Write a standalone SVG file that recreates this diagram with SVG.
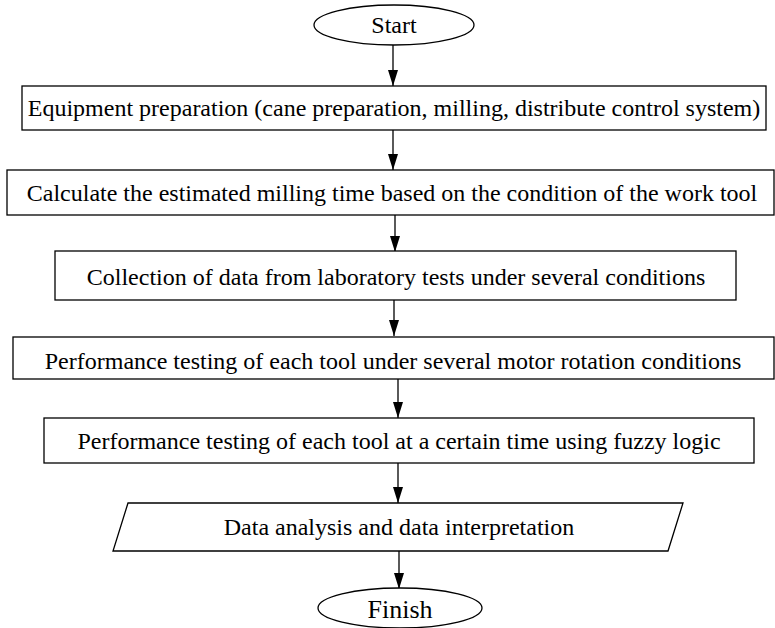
<svg xmlns="http://www.w3.org/2000/svg" width="775" height="628" viewBox="0 0 775 628">
<style>
.s{fill:#fff;stroke:#000;stroke-width:1.3}
.t{font-family:"Liberation Serif","Times New Roman",serif;font-size:24px;fill:#000;text-anchor:middle}
.c{stroke:#000;stroke-width:1.3;fill:none;marker-end:url(#a)}
</style>
<defs>
<marker id="a" markerWidth="16" markerHeight="10" refX="16" refY="5" orient="auto" markerUnits="userSpaceOnUse" viewBox="0 0 16 10">
<path d="M0,0 L16,5 L0,10 Z" fill="#000"/>
</marker>
</defs>
<rect width="775" height="628" fill="#fff"/>
<g id="connectors">
<line class="c" x1="393" y1="45" x2="393" y2="86"/>
<line class="c" x1="393" y1="130" x2="393" y2="170"/>
<line class="c" x1="395" y1="215" x2="395" y2="252"/>
<line class="c" x1="394" y1="300" x2="394" y2="336"/>
<line class="c" x1="398" y1="379" x2="398" y2="418"/>
<line class="c" x1="398" y1="463" x2="398" y2="503"/>
<line class="c" x1="399" y1="551" x2="399" y2="589"/>
</g>
<g id="start">
<ellipse class="s" cx="394" cy="25" rx="80" ry="20"/>
<text class="t" x="394" y="33">Start</text>
</g>
<g id="step1">
<rect class="s" x="22" y="86" width="744" height="44"/>
<text class="t" x="394" y="116">Equipment preparation (cane preparation, milling, distribute control system)</text>
</g>
<g id="step2">
<rect class="s" x="7" y="170" width="767" height="45"/>
<text class="t" x="392" y="201">Calculate the estimated milling time based on the condition of the work tool</text>
</g>
<g id="step3">
<rect class="s" x="55" y="251" width="681" height="49"/>
<text class="t" x="396" y="285">Collection of data from laboratory tests under several conditions</text>
</g>
<g id="step4">
<rect class="s" x="13" y="337" width="761" height="42"/>
<text class="t" x="393" y="369">Performance testing of each tool under several motor rotation conditions</text>
</g>
<g id="step5">
<rect class="s" x="44" y="418" width="710" height="45"/>
<text class="t" x="399" y="449">Performance testing of each tool at a certain time using fuzzy logic</text>
</g>
<g id="analysis">
<polygon class="s" points="128,503 683,503 668,551 113,551"/>
<text class="t" x="399" y="535">Data analysis and data interpretation</text>
</g>
<g id="finish">
<ellipse class="s" cx="400" cy="608" rx="82" ry="20"/>
<text class="t" x="400" y="618" style="font-size:26px">Finish</text>
</g>
</svg>
